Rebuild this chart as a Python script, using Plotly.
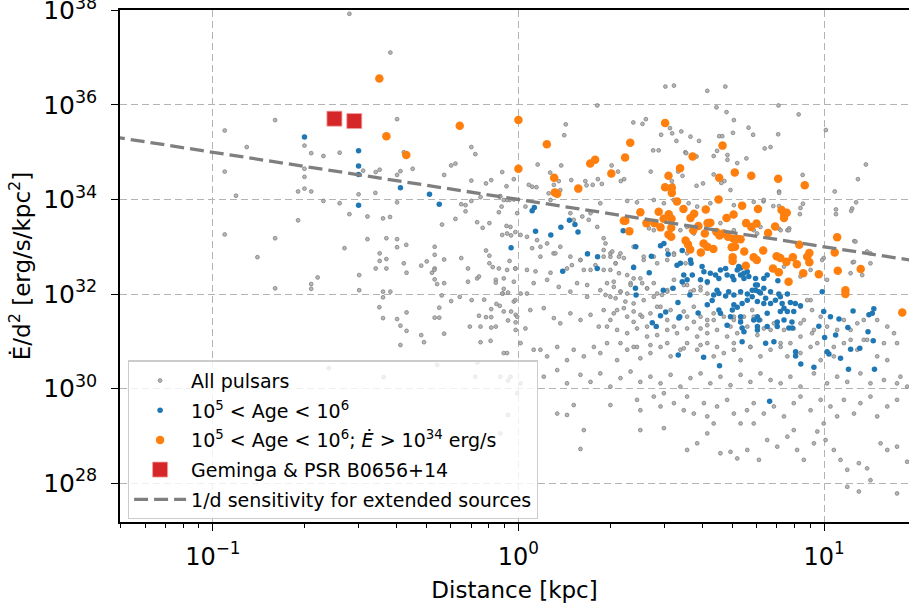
import numpy as np
import plotly.graph_objects as go

# ---------------- data (log10 distance [kpc], log10 Edot/d^2 [erg/s/kpc^2]) ----------------
all_pulsars = [
    (-0.553,37.93),(-0.419,37.11),(-0.796,35.68),(-0.961,35.46),(-0.397,35.70),(-0.889,35.11),(-0.700,35.14),
    (-0.678,34.98),(-0.638,34.92),(-0.585,34.99),(-0.375,35.00),(-0.154,35.11),(-0.141,34.96),(-0.961,34.59),
    (-0.700,34.65),(-0.700,34.48),(-0.508,34.61),(-0.467,34.58),(-0.454,34.63),(-0.397,34.52),(-0.386,34.60),
    (-0.346,34.65),(-0.220,34.72),(-0.206,34.76),(-0.243,34.52),(-0.053,34.58),(-0.015,34.43),(-0.154,34.40),
    (-0.106,34.34),(-0.089,34.41),(-0.039,34.28),(-0.924,34.08),(-0.721,34.17),(-0.700,34.23),(-0.678,34.17),
    (-0.638,33.97),(-0.585,33.92),(-0.523,34.11),(-0.468,34.14),(-0.397,33.94),(-0.187,33.90),(-0.173,33.88),
    (-0.154,33.97),(-0.124,34.05),(-0.062,34.06),(-0.048,33.99),(-0.029,33.99),(-0.173,33.75),(-0.064,33.73),
    (-0.721,33.56),(-0.553,33.69),(-0.494,33.64),(-0.443,33.60),(-0.420,33.63),(-0.206,33.59),(-0.250,33.47),
    (-0.135,33.52),(-0.117,33.40),(-0.095,33.50),(-0.039,33.44),(-0.024,33.24),(-0.010,33.31),(-0.053,33.25),
    (-0.961,33.26),(-0.796,33.18),(-0.494,33.16),(-0.432,33.18),(-0.397,33.16),(-0.397,32.99),(-0.367,33.04),
    (-0.569,32.97),(-0.854,32.78),(-0.454,32.86),(-0.454,32.70),(-0.432,32.74),(-0.274,33.00),(-0.274,32.83),
    (-0.243,32.73),(-0.318,32.60),(-0.300,32.69),(-0.375,32.65),(-0.187,32.76),(-0.106,32.92),(-0.095,32.81),
    (-0.095,32.65),(-0.084,32.57),(-0.064,32.54),(-0.029,32.70),(-0.165,32.54),(-0.467,32.54),(-0.432,32.54),
    (-0.274,32.54),
    (-0.366,32.45),(-0.283,32.45),(-0.275,32.51),(-0.274,32.31),(-0.266,32.21),(-0.243,32.23),(-0.135,32.33),
    (-0.129,32.37),(-0.074,32.30),(-0.074,32.24),(-0.657,32.35),(-0.678,32.21),(-0.678,32.11),(-0.521,32.40),
    (-0.521,32.08),(-0.443,32.05),(-0.419,32.05),(-0.443,31.93),(-0.455,31.72),(-0.443,31.49),(-0.397,31.47),
    (-0.386,31.33),(-0.366,31.61),(-0.366,31.22),(-0.386,30.92),(-0.318,31.13),(-0.309,30.98),(-0.274,31.50),
    (-0.259,31.50),(-0.259,31.71),(-0.251,31.97),(-0.243,31.16),(-0.220,31.85),(-0.192,31.94),(-0.159,31.31),
    (-0.124,31.31),(-0.106,31.51),(-0.089,31.51),(-0.089,31.29),(-0.074,31.31),(-0.124,30.98),(-0.091,31.01),
    (-0.153,31.87),(-0.112,31.88),(-0.129,31.54),(-0.061,31.75),
    (-0.796,32.12),(-0.165,32.26),(-0.010,32.54),(-0.072,31.79),(-0.051,32.01),(-0.034,32.03),(-0.015,31.84),
    (-0.048,32.11),(-0.024,31.63),(-0.009,31.56),(-0.089,31.68),(-0.034,31.44),(-0.009,31.40),(-0.009,31.24),
    (-0.048,30.75),(-0.620,30.43),(-0.266,30.50),(-0.134,30.55),(-0.441,30.24),(-0.141,30.25),(-0.059,30.25),
    (-0.034,30.17),(-0.034,29.44),(-0.059,29.05),(-0.004,29.90),
    (0.481,36.39),(0.509,36.41),(0.618,36.30),(0.677,36.39),(0.258,35.99),(0.648,35.95),(0.681,35.85),
    (0.851,35.99),(0.917,35.80),(0.705,35.68),(0.753,35.52),(1.006,35.47),(0.376,35.63),(0.406,35.60),
    (0.417,35.70),(0.496,35.51),(0.503,35.40),(0.533,35.44),(0.467,35.37),(0.155,35.59),(0.150,35.36),
    (0.563,35.33),(0.591,35.24),(0.517,35.24),(0.657,35.34),(0.667,35.34),(0.702,35.41),(0.768,35.37),
    (0.850,35.38),(0.806,35.08),(0.825,35.11),(0.441,35.04),(0.459,35.04),(0.546,35.00),(0.549,34.98),
    (0.583,34.91),(0.639,34.92),(0.650,35.03),(0.684,34.94),(0.684,34.84),(0.746,34.87),(0.716,34.77),
    (0.063,34.74),(0.140,34.72),(0.104,34.57),(0.116,34.31),(0.132,34.39),(0.173,34.41),(0.219,34.39),
    (0.223,34.30),(0.243,34.31),(0.260,34.43),(0.273,34.33),(0.305,34.72),(0.335,34.39),(0.346,34.43),
    (0.326,34.59),(0.433,34.59),(0.502,34.39),(0.505,34.30),(0.583,34.29),(0.604,34.34),(0.639,34.53),
    (0.674,34.39),(0.694,34.20),(0.853,34.17),(0.930,34.52),(1.035,34.17),(1.137,34.74),(1.111,34.43),
    (1.105,33.94),(1.092,33.81),(1.089,33.76),(1.039,33.79),(1.039,33.69),(1.099,33.12),(0.999,32.76),
    (1.094,32.67),(1.152,32.86),(0.931,33.91),(0.923,33.82),(0.921,33.69),(0.834,33.86),(0.853,33.86),
    (0.853,34.14),(0.802,33.96),(0.880,33.35),(0.886,33.39),(0.853,33.38),(-0.059,34.07),(-0.037,33.99),
    (-0.015,34.00),(-0.055,33.85),(-0.004,33.71),(0.023,33.85),(-0.026,33.42),(0.034,34.31),(0.045,34.27),
    (0.059,34.26),(0.105,33.99),(0.099,34.13),(0.137,34.20),(0.170,33.71),(0.181,33.57),(0.209,33.64),
    (0.230,33.57),(0.236,33.71),(0.258,33.42),(0.268,33.92),(0.356,33.97),(0.388,33.94),(0.443,33.99),
    (0.476,33.92),(0.508,33.99),(0.557,33.92),(0.585,33.85),(0.628,33.92),(0.705,33.88),(0.770,33.95),
    (0.803,33.99),(0.427,33.39),(0.443,33.35),(0.530,33.35),(0.552,33.42),(0.574,33.28),(0.639,33.35),
    (0.661,33.50),(0.705,33.35),(0.770,33.35),(0.792,33.42),(0.858,33.35),(-0.037,33.28),(0.007,33.25),
    (0.028,33.21),(0.061,33.14),(0.072,33.00),(0.045,32.97),(0.094,33.07),(0.137,33.00),(0.115,32.86),
    (0.170,32.79),(0.203,32.72),(0.279,32.93),(0.301,32.79),(0.334,32.86),(0.377,33.00),(0.410,32.72),
    (0.443,32.79),(0.487,32.93),(0.509,32.86),(0.552,32.86),(0.664,34.35),(0.523,34.59),(0.537,34.50),
    (0.072,32.79),(0.121,32.86),(0.175,32.61),(0.203,32.72),(0.214,32.51),(0.279,32.79),(0.301,32.86),
    (0.318,32.65),(0.345,32.76),(0.377,32.58),(0.410,32.79),(0.454,32.65),(0.487,32.72),(0.509,32.83),
    (0.547,32.65),(-0.037,32.51),(-0.010,32.54),(0.028,32.51),(0.056,32.48),(0.105,32.45),(0.159,32.54),
    (0.236,32.51),(0.252,32.61),
    (-0.048,32.33),(-0.015,32.26),(0.007,32.01),(0.050,32.23),(0.094,32.30),(0.132,32.15),(0.170,32.05),
    (0.192,32.23),(0.225,32.19),(0.268,32.08),(0.312,32.26),(0.334,32.05),(0.367,32.23),(0.399,32.33),
    (0.421,32.12),(0.454,32.01),(0.487,32.08),(0.509,32.30),(0.552,32.19),(0.563,32.05),(0.596,32.08),
    (0.618,32.23),(-0.053,32.01),(0.028,32.01),(0.225,31.94),(0.301,31.94),(0.356,32.01),(0.443,32.23),
    (-0.048,31.63),(-0.010,31.87),(-0.004,31.52),(0.023,31.27),(0.039,31.66),(0.083,31.70),(0.116,31.49),
    (0.137,31.38),(0.170,31.59),(0.203,31.45),(0.236,31.56),(0.263,31.31),(0.301,31.45),(0.323,31.66),
    (0.356,31.52),(0.377,31.41),(0.399,31.56),(0.421,31.31),(0.454,31.73),(0.487,31.45),(0.509,31.31),
    (0.552,31.52),(0.574,31.41),(0.596,31.27),(0.618,31.34),(0.639,31.45),(0.661,31.59),(0.694,31.31),
    (0.705,31.52),(0.727,31.45),(0.770,31.52),(0.803,31.27),(0.836,31.38),(0.869,31.24),(0.901,31.27),
    (0.923,31.38),(0.961,31.17),(0.989,31.52),(0.956,31.87),
    (-0.037,30.75),(0.007,30.96),(0.050,30.82),(0.072,30.82),(0.094,30.68),(0.127,30.88),(0.159,30.60),
    (0.181,30.82),(0.214,30.68),(0.247,30.88),(0.268,30.75),(0.290,30.96),(0.323,30.60),(0.356,30.82),
    (0.388,30.88),(0.399,30.64),(0.432,30.75),(0.465,30.88),(0.498,30.68),(0.530,30.82),(0.552,30.96),
    (0.585,30.82),(0.618,30.96),(0.639,30.68),(0.672,30.75),(0.705,30.82),(0.727,30.60),(0.759,30.88),
    (0.792,30.68),(0.825,30.82),(0.858,30.96),(0.880,30.68),(0.923,30.75),(0.956,30.88),(0.989,30.60),
    (1.032,30.68),(1.065,30.96),(1.109,30.82),(1.130,31.03),(1.174,30.68),(1.207,30.60),(1.250,30.25),
    (0.083,30.25),(0.127,30.39),(0.159,30.11),(0.203,30.29),(0.236,30.14),(0.268,30.32),(0.301,30.04),
    (0.334,30.22),(0.367,30.36),(0.399,30.14),(0.432,30.25),(0.465,30.11),(0.498,30.29),(0.530,30.04),
    (0.563,30.22),(0.596,30.32),(0.628,30.11),(0.661,30.25),(0.694,30.07),(0.727,30.29),(0.759,30.14),
    (0.792,30.32),(0.825,30.18),(0.858,30.11),(0.890,30.25),(0.923,30.04),(0.967,30.32),(1.010,30.11),
    (1.043,30.25),(1.076,30.14),(1.119,30.32),(1.152,30.11),(1.196,30.18),(1.239,30.11),(1.272,30.04),
    (0.007,30.11),(-0.026,30.25),
    (0.127,29.47),(0.159,29.44),(0.181,29.65),(0.214,29.12),(0.301,29.65),(0.388,29.76),(0.399,29.54),
    (0.443,29.83),(0.476,29.90),(0.465,29.62),(0.509,29.69),(0.541,29.54),(0.552,29.83),(0.574,29.47),
    (0.607,29.69),(0.618,29.41),(0.650,29.62),(0.683,29.76),(0.705,29.47),(0.727,29.26),(0.748,29.54),
    (0.770,29.69),(0.803,29.47),(0.836,29.62),(0.869,29.41),(0.901,29.69),(0.923,29.83),(0.956,29.54),
    (0.989,29.76),(1.021,29.62),(1.043,29.41),(1.065,29.76),(1.098,29.47),(1.119,29.69),(1.152,29.83),
    (1.174,29.41),(1.207,29.62),(1.239,29.76),
    (0.203,28.72),(0.399,29.12),(0.476,29.16),(0.552,28.70),(0.585,28.84),(0.618,29.05),(0.661,28.63),
    (0.694,28.66),(0.716,28.52),(0.749,28.70),(0.787,28.49),(0.814,28.91),(0.847,28.77),(0.880,28.98),
    (0.912,28.70),(0.934,28.49),(0.967,28.84),(1.005,28.91),(1.032,28.70),(1.054,28.49),(1.076,28.28),
    (1.114,28.42),(1.141,28.31),(1.185,28.84),(1.207,28.70),(1.239,28.77),(1.272,28.45),(1.152,28.06),
    (1.076,27.92),(1.114,27.82),(1.239,27.78),(0.978,29.09),(0.999,29.26),(0.639,29.26),(0.770,29.26),
    (0.901,29.12),
    (0.279,33.18),(0.285,33.07),(0.307,32.90),(0.318,32.65),(0.329,32.79),(0.279,32.51),(0.301,32.51),
    (0.329,32.44),(0.356,32.40),(0.290,32.23),(0.312,32.15),(0.334,32.05),(0.367,32.19),(0.377,32.33),
    (0.405,32.23),(0.421,32.12),(0.285,31.98),(0.318,31.91),(0.350,31.84),(0.377,31.80),(0.410,31.87),
    (0.443,31.94),(0.470,31.98),(0.487,32.05),(0.503,32.12),(0.541,32.19),(0.574,32.08),(0.596,32.15),
    (0.618,32.01),(0.279,31.66),(0.312,31.59),(0.345,31.70),(0.377,31.63),(0.405,31.52),(0.432,31.59),
    (0.465,31.73),(0.498,31.66),(0.541,31.63),(0.574,31.73),(0.596,31.52),(0.618,31.45),(0.639,31.59),
    (0.672,31.52),(0.705,31.45),(0.738,31.52),(0.765,31.66),(0.290,31.31),(0.323,31.24),(0.356,31.17),
    (0.388,31.27),(0.421,31.10),(0.454,31.13),(0.487,31.24),(0.519,31.17),(0.552,31.27),(0.585,31.10),
    (0.618,31.17),(0.650,31.24),(0.683,31.10),(0.716,31.17),(0.749,31.31),(0.782,31.13),(0.334,30.96),
    (0.377,30.88),(0.432,30.92),(0.487,30.96),(0.541,30.85),(0.596,30.92),(0.650,30.88),(0.705,30.96),
    (0.759,30.88),
    (0.885,33.35),(0.781,33.28),(0.836,32.51),(0.869,32.58),(0.923,32.37),(0.956,32.51),(0.994,32.72),
    (1.010,32.30),(1.087,32.44),(1.125,32.40),(1.098,32.68),(1.152,32.65),(1.103,33.11),(1.141,32.90),
    (0.945,31.87),(0.961,31.66),(0.923,31.73),(0.934,31.45),(0.967,31.24),(1.010,31.31),(1.043,31.24),
    (1.065,31.45),(1.087,31.24),(1.109,31.38),(1.130,31.45),(1.174,31.45),(1.207,31.31),(1.229,31.17),
    (1.239,30.96),(1.196,30.96),(1.141,31.03),(1.087,31.03),(1.032,30.88),(0.978,30.96),(0.923,31.10),
    (0.890,30.96),(0.858,30.88),(0.825,31.24),(0.792,31.45),
]

age_1e5_1e6 = [
    (-0.700,35.32),(-0.523,35.03),(-0.523,34.71),(-0.523,34.53),(-0.386,34.25),(-0.291,34.11),(-0.259,33.90),
    (-0.523,33.88),(-0.024,32.98),(0.052,33.83),(0.045,33.76),(0.167,33.56),(0.185,33.47),(0.139,33.41),
    (0.195,33.31),(0.056,33.33),(0.106,33.25),(0.226,32.85),(0.259,32.79),(0.258,32.54),(0.145,32.48),
    (0.343,33.34),(0.384,33.00),(0.435,32.80),(0.465,33.02),(0.476,33.07),(0.490,32.84),(0.536,32.92),
    (0.563,32.72),(0.565,32.65),(0.519,32.61),(0.530,32.65),(0.377,32.56),(0.428,32.45),(0.541,32.40),
    (0.552,32.30),(0.536,32.26),(0.569,32.40),(0.601,32.58),(0.607,32.47),(0.596,32.30),(0.618,32.26),
    (0.628,32.44),(0.645,32.40),(0.656,32.33),(0.661,32.51),(0.678,32.54),(0.683,32.40),(0.700,32.37),
    (0.705,32.30),(0.716,32.51),(0.727,32.40),(0.738,32.33),(0.749,32.47),(0.776,32.33),(0.782,32.19),
    (0.721,32.58),(0.383,32.12),(0.385,31.98),(0.474,32.08),(0.506,32.12),(0.522,31.82),(0.561,31.98),
    (0.465,31.54),(0.525,31.49),(0.528,31.52),(0.438,31.39),(0.451,31.31),(0.588,31.60),(0.618,31.77),
    (0.634,31.86),(0.639,31.98),(0.656,32.01),(0.678,31.96),(0.650,32.08),(0.688,32.05),(0.705,31.98),
    (0.727,32.05),(0.749,32.00),(0.749,31.87),(0.765,31.94),(0.776,32.08),(0.656,31.66),(0.661,31.59),
    (0.700,31.66),(0.716,31.72),(0.732,31.80),(0.683,31.34),(0.732,31.28),(0.738,31.20),(0.770,31.45),
    (0.782,31.52),(0.782,31.31),(0.732,30.99),(0.803,32.33),(0.814,32.40),(0.849,32.28),(0.776,32.19),
    (0.765,32.08),(0.787,32.05),(0.803,32.12),(0.825,32.05),(0.852,32.00),(0.857,31.94),(0.880,32.00),
    (0.782,31.84),(0.809,31.91),(0.825,31.80),(0.841,31.87),(0.863,31.80),(0.869,31.70),(0.890,31.82),
    (0.906,31.80),(0.901,31.63),(0.923,31.75),(0.994,32.05),(0.787,31.45),(0.814,31.31),(0.869,31.45),
    (0.885,31.28),(0.896,31.28),(0.836,30.99),(0.809,30.96),(0.983,31.32),(0.999,31.63),(1.021,31.52),
    (1.002,31.08),(1.049,31.47),(1.038,31.13),(1.095,31.64),(1.078,31.29),(1.147,31.56),(1.158,31.59),
    (1.163,31.69),(1.144,31.20),(1.161,31.01),(1.087,30.83),(1.117,30.85),(0.482,31.62),(0.523,30.71),
    (0.606,30.66),(0.658,30.48),(0.822,29.73),(0.907,30.78),(0.907,30.69),(0.924,30.52),(0.967,30.45),
    (1.010,30.78),(1.016,30.73),(1.054,30.64),(1.080,30.41),(1.165,30.41),(0.727,32.55),(0.738,32.44),
    (0.754,32.37),(0.792,32.02),(0.705,31.77),(0.803,31.80),(0.880,31.63),(0.857,31.63),(0.814,31.59),
    (0.727,31.52),(0.694,31.52),(0.847,31.31),(0.782,31.24),(0.727,31.41),(0.847,31.41),(0.895,31.41),
]

age_and_edot = [
    (-0.455,36.56),(-0.432,35.34),(-0.367,34.94),(-0.192,35.56),(0.000,35.68),(0.000,34.65),(0.093,35.17),
    (0.235,34.76),(0.251,34.84),(0.366,35.20),(0.349,34.89),(0.304,34.55),(0.117,34.46),(0.119,34.15),
    (0.127,34.12),(0.196,34.23),(0.480,35.62),(0.570,34.91),(0.529,34.66),(0.491,34.50),(0.480,34.26),
    (0.502,34.25),(0.502,34.14),(0.519,33.96),(0.668,35.14),(0.657,34.46),(0.708,34.57),(0.762,34.50),
    (0.850,34.44),(0.937,34.30),(0.655,34.00),(1.043,33.20),(1.035,32.88),(1.120,32.53),(0.459,33.74),
    (0.399,33.73),(0.345,33.55),(0.350,33.55),(0.419,33.50),(0.492,33.69),(0.501,33.59),(0.475,33.59),
    (0.540,33.80),(0.563,33.61),(0.575,33.70),(0.613,33.79),(0.589,33.44),(0.628,33.51),(0.681,33.61),
    (0.704,33.68),(0.732,33.87),(0.784,33.80),(0.745,33.50),(0.762,33.42),(0.779,33.49),(0.465,33.41),
    (0.445,33.50),(0.363,33.33),(0.500,33.40),(0.491,33.26),(0.500,33.21),(0.572,33.35),(0.619,33.50),
    (0.610,33.28),(0.648,33.31),(0.658,33.24),(0.670,33.28),(0.817,33.29),(0.840,33.43),(0.861,33.78),
    (0.870,33.69),(0.878,33.72),(0.869,33.61),(0.919,33.04),(0.686,33.21),(0.704,33.17),(0.715,33.17),
    (0.727,33.16),(0.698,32.99),(0.709,33.00),(0.739,32.90),(0.801,32.92),(0.547,33.13),(0.555,33.05),
    (0.562,32.94),(0.597,32.88),(0.606,33.07),(0.618,33.00),(0.638,32.95),(0.701,32.78),(0.701,32.70),
    (0.744,32.60),(0.770,32.78),(0.780,32.72),(0.845,32.80),(0.857,32.76),(0.877,32.68),(0.898,32.78),
    (0.911,32.63),(0.945,32.79),(0.952,32.87),(0.952,32.67),(0.833,32.54),(0.932,32.44),(0.852,32.46),
    (0.884,32.26),(0.983,32.42),(1.045,32.49),(1.070,32.08),(1.070,32.00),(1.256,31.61),
]

geminga_b0656 = [(-0.602,35.71),(-0.537,35.66)]

sens_dist = [0.04, 25.0]          # kpc
sens_norm = 1e34                  # Edot/d^2 at 1 kpc for the 1/d sensitivity

x_tickvals = [0.1, 1, 10]
x_ticktext = ["10<sup>\u22121</sup>", "10<sup>0</sup>", "10<sup>1</sup>"]
y_exponents = [28, 30, 32, 34, 36, 38]


def unpack(pts):
    a = np.array(pts)
    return 10 ** a[:, 0], 10 ** a[:, 1]


FONT = "DejaVu Sans"
fig = go.Figure()

gx, gy = unpack(all_pulsars)
fig.add_trace(go.Scatter(x=gx, y=gy, mode="markers", name="All pulsars", legendgroup="a",
                         marker=dict(size=3.8, color="rgba(175,175,175,0.9)",
                                     line=dict(width=0.8, color="#808080"))))
bx, by = unpack(age_1e5_1e6)
fig.add_trace(go.Scatter(x=bx, y=by, mode="markers", name="10<sup>5</sup> &lt; Age &lt; 10<sup>6</sup>",
                         legendgroup="b", marker=dict(size=5.5, color="#1f77b4")))
ox, oy = unpack(age_and_edot)
fig.add_trace(go.Scatter(x=ox, y=oy, mode="markers", legendgroup="c",
                         name="10<sup>5</sup> &lt; Age &lt; 10<sup>6</sup>; <i>\u0116</i> &gt; 10<sup>34</sup> erg/s",
                         marker=dict(size=8.5, color="#ff7f0e")))
rx, ry = unpack(geminga_b0656)
fig.add_trace(go.Scatter(x=rx, y=ry, mode="markers", name="Geminga &amp; PSR B0656+14", legendgroup="d",
                         marker=dict(size=15, symbol="square", color="#d62728",
                                     line=dict(width=0.8, color="#f0a0a0"))))
sd = np.array(sens_dist)
fig.add_trace(go.Scatter(x=sd, y=sens_norm / sd, mode="lines", legendgroup="e",
                         name="1/d sensitivity for extended sources",
                         line=dict(color="#7f7f7f", width=3.3, dash="14px,6px")))

minor_x = [m * 10.0 ** e for e in (-2, -1, 0, 1) for m in range(2, 10)]
minor_x = [v for v in minor_x if 0.049 < v < 19.5]

fig.update_xaxes(type="log", range=[np.log10(0.0497), np.log10(18.97)], automargin=False,
                 tickvals=x_tickvals, ticktext=x_ticktext, ticklabelstandoff=5,
                 showline=True, linecolor="black", linewidth=1.5, mirror=True,
                 ticks="outside", ticklen=7, tickwidth=1.3, tickcolor="black",
                 showgrid=True, gridcolor="#b3b3b3", griddash="7px,4px", gridwidth=1.4,
                 zeroline=False,
                 minor=dict(tickvals=minor_x, ticks="outside", ticklen=4, tickwidth=1,
                            tickcolor="black", showgrid=False),
                 tickfont=dict(family=FONT, size=24, color="black"),
                 title=dict(text="Distance [kpc]", font=dict(family=FONT, size=23, color="black"),
                            standoff=12))
fig.update_yaxes(type="log", range=[27.175, 38.01], automargin=False,
                 tickvals=[10.0 ** e for e in y_exponents],
                 ticktext=[f"10<sup>{e}</sup>" for e in y_exponents], ticklabelstandoff=9,
                 ticklabeloverflow="allow",
                 showline=True, linecolor="black", linewidth=1.5, mirror=False,
                 ticks="outside", ticklen=7, tickwidth=1.3, tickcolor="black",
                 showgrid=True, gridcolor="#b3b3b3", griddash="7px,4px", gridwidth=1.4,
                 zeroline=False,
                 tickfont=dict(family=FONT, size=25, color="black"),
                 title=dict(text="\u0116/d<sup>2</sup> [erg/s/kpc<sup>2</sup>]",
                            font=dict(family=FONT, size=23, color="black"), standoff=6))

fig.update_layout(
    width=909, height=612,
    margin=dict(l=120, r=0, t=10, b=90, autoexpand=False),
    plot_bgcolor="white", paper_bgcolor="white",
    font=dict(family=FONT, color="black"),
    legend=dict(x=0.01, y=0.005, xanchor="left", yanchor="bottom",
                bgcolor="rgba(255,255,255,0.8)", bordercolor="#cccccc", borderwidth=1.2,
                font=dict(family=FONT, size=19, color="black"), tracegroupgap=2,
                itemwidth=52),
)

fig.write_html("out.html", config={"displayModeBar": False},
               post_script="document.body.style.margin='0px';")
